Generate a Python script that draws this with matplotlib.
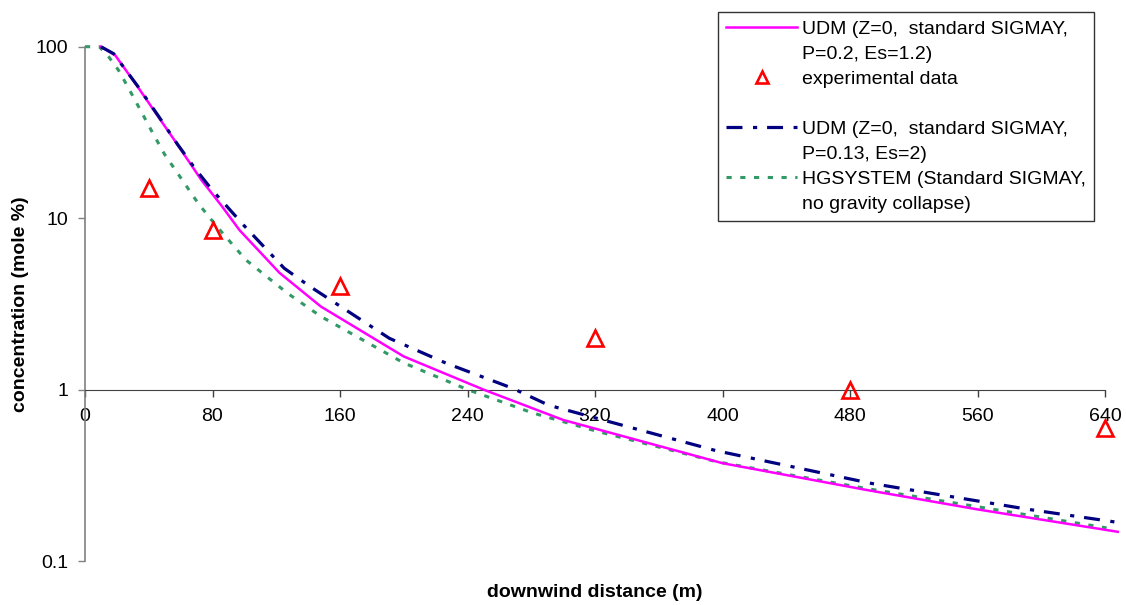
import matplotlib
matplotlib.use('Agg')
import matplotlib.pyplot as plt
from matplotlib.lines import Line2D
from matplotlib.ticker import NullLocator, FixedLocator, FixedFormatter

plt.rcParams['font.family'] = ['Liberation Sans', 'DejaVu Sans']

# ---- data ----
udm1_x = [10, 19, 33, 46, 56, 73, 86, 97, 122, 148, 200, 250, 300, 400, 490, 560, 648]
udm1_y = [100, 89, 58.5, 39, 28.6, 16.7, 11.7, 8.5, 4.8, 3.05, 1.56, 1.0, 0.665, 0.372, 0.26, 0.20, 0.148]

udm2_x = [10, 18, 33, 46, 58, 69, 80, 88, 100, 125, 141, 191, 227, 268, 291, 396, 493, 592, 648]
udm2_y = [100, 91, 59, 39.5, 27, 19.5, 14.5, 12, 9.0, 5.1, 4.0, 1.99, 1.42, 1.02, 0.81, 0.44, 0.284, 0.2, 0.168]

hg_x = [0, 9, 15, 21, 27, 34, 42, 50, 61, 71, 82, 101, 127, 148, 200, 240, 281, 320, 396, 489, 641]
hg_y = [100, 100, 87, 73, 58, 44, 32, 23.5, 16.7, 12.2, 9.1, 5.7, 3.65, 2.67, 1.43, 1.0, 0.73, 0.575, 0.38, 0.266, 0.156]

exp_x = [40, 80, 160, 320, 480, 640]
exp_y = [15, 8.5, 4.0, 2.0, 1.0, 0.6]

x_ticks = [0, 80, 160, 240, 320, 400, 480, 560, 640]
y_ticks = [0.1, 1, 10, 100]
y_tick_labels = ['0.1', '1', '10', '100']

labels = ['UDM (Z=0,  standard SIGMAY,', 'P=0.2, Es=1.2)', 'experimental data', ' ',
          'UDM (Z=0,  standard SIGMAY,', 'P=0.13, Es=2)',
          'HGSYSTEM (Standard SIGMAY,', 'no gravity collapse)']

# ---- style ----
C_MAG = '#FF00FF'
C_BLUE = '#000080'
C_GREEN = '#339966'
C_RED = '#FF0000'
FS = 14

W, H = 1126, 605
fig = plt.figure(figsize=(W / 100, H / 100), dpi=100)
ax = fig.add_axes([85 / W, 1 - 561 / H, (1105 - 85) / W, (561 - 46.7) / H])
ax.set_yscale('log')
ax.set_xlim(0, 640)
ax.set_ylim(0.1, 100)

mag_line, = ax.plot(udm1_x, udm1_y, color=C_MAG, lw=1.8, clip_on=False, zorder=3)
blue_line, = ax.plot(udm2_x, udm2_y, color=C_BLUE, lw=2.3, dashes=(5, 3.3, 1.3, 3.1),
                     clip_on=False, zorder=3)
green_line, = ax.plot(hg_x, hg_y, color=C_GREEN, lw=2.2, dashes=(1.7, 2.8),
                      clip_on=False, zorder=2)
exp_pts, = ax.plot(exp_x, exp_y, ls='none', marker='^', ms=12, mfc='none', mec=C_RED,
                   mew=1.9, clip_on=False, zorder=4)

# axes styling
for s in ['top', 'right']:
    ax.spines[s].set_visible(False)
ax.spines['bottom'].set_position(('data', 1))
ax.spines['bottom'].set_color('#404040')
ax.spines['left'].set_color('#808080')
ax.spines['left'].set_linewidth(1.2)

ax.xaxis.set_major_locator(FixedLocator(x_ticks))
ax.xaxis.set_major_formatter(FixedFormatter([str(v) for v in x_ticks]))
ax.yaxis.set_major_locator(FixedLocator(y_ticks))
ax.yaxis.set_major_formatter(FixedFormatter(y_tick_labels))
ax.yaxis.set_minor_locator(NullLocator())
ax.xaxis.set_minor_locator(NullLocator())

ax.tick_params(axis='x', direction='out', length=5, width=1, color='#404040', pad=8,
               labelsize=FS, labelcolor='black')
ax.tick_params(axis='y', direction='out', length=5, width=1, color='#808080', pad=7,
               labelsize=FS, labelcolor='black')

ax.set_xlabel('downwind distance (m)', fontsize=FS, fontweight='bold')
ax.xaxis.set_label_coords(0.5, (561 - 584) / 514.3)
ax.set_ylabel('concentration (mole %)', fontsize=FS, fontweight='bold')
ax.yaxis.set_label_coords((29 - 85) / 1020, 0.5)

# legend
blank = lambda: Line2D([], [], ls='none')
handles = [Line2D([], [], color=C_MAG, lw=1.8), blank(),
           Line2D([], [], ls='none', marker='^', ms=12, mfc='none', mec=C_RED, mew=1.9),
           blank(),
           Line2D([], [], color=C_BLUE, lw=2.3, dashes=(5, 3.3, 1.3, 3.1)), blank(),
           Line2D([], [], color=C_GREEN, lw=2.2, dashes=(1.7, 2.8)), blank()]
leg = ax.legend(handles, labels, loc='upper left',
                bbox_to_anchor=(718 / W, 1 - 12 / H), bbox_transform=fig.transFigure,
                frameon=True, fancybox=False, edgecolor='#333333', framealpha=1,
                handlelength=3.65, handletextpad=0.27, labelspacing=0.38,
                borderpad=0.42, borderaxespad=0, fontsize=FS, markerscale=0.75)
leg.get_frame().set_linewidth(1.0)

fig.savefig('out.png', dpi=100, facecolor='white')
